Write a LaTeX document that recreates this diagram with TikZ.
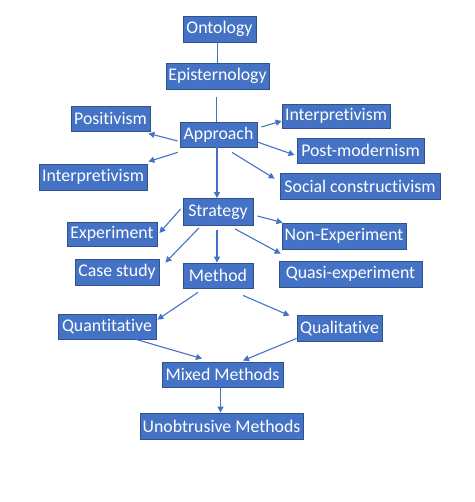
\documentclass[tikz,border=0pt]{standalone}
\usepackage{fontspec}
\setmainfont[Ligatures=NoCommon]{Carlito}
\usetikzlibrary{arrows.meta}
\definecolor{boxblue}{HTML}{4472C4}
\definecolor{edgeblue}{HTML}{2F528F}
\begin{document}
\begin{tikzpicture}[x=1pt,y=-1pt,
  box/.style={draw=edgeblue,line width=0.8pt,fill=boxblue,text=white,inner sep=0pt,
    font=\fontsize{17.8}{21}\selectfont},
  link/.style={boxblue,line width=1.1pt},
  arr/.style={link,-{Triangle[length=6pt,width=6pt]}}]
\useasboundingbox (0,0) rectangle (474,502);
% boxes
\node[box,minimum width=73pt,minimum height=26pt] (ontology) at (219.5,29) {Ontology};
\node[box,minimum width=103pt,minimum height=26pt] (episte) at (217.5,76) {Episternology};
\node[box,minimum width=79pt,minimum height=25pt] (positivism) at (110.5,118.5) {Positivism};
\node[box,minimum width=77pt,minimum height=25pt] (approach) at (218.5,134.5) {Approach};
\node[box,minimum width=108pt,minimum height=24pt] (interpR) at (336,116) {Interpretivism};
\node[box,minimum width=127pt,minimum height=25pt] (postmod) at (360.5,150.5) {Post-modernism};
\node[box,minimum width=108pt,minimum height=26pt] (interpL) at (93,177) {Interpretivism};
\node[box,minimum width=160pt,minimum height=26pt] (social) at (360,186) {Social constructivism};
\node[box,minimum width=70pt,minimum height=27pt] (strategy) at (218,212) {Strategy};
\node[box,minimum width=90pt,minimum height=24pt] (experiment) at (112,234) {Experiment};
\node[box,minimum width=124pt,minimum height=26pt] (nonexp) at (344,236) {Non-Experiment};
\node[box,minimum width=84pt,minimum height=26pt] (casestudy) at (117,272) {Case study};
\node[box,minimum width=70pt,minimum height=25pt] (method) at (218,275.5) {Method};
\node[box,minimum width=143pt,minimum height=26pt] (quasi) at (350.5,274) {Quasi-experiment};
\node[box,minimum width=98pt,minimum height=25pt] (quant) at (107,326.5) {Quantitative};
\node[box,minimum width=85pt,minimum height=26pt] (qual) at (339.5,328) {Qualitative};
\node[box,minimum width=121pt,minimum height=25pt] (mixed) at (222.5,374.5) {Mixed Methods};
\node[box,minimum width=163pt,minimum height=26pt] (unob) at (221.5,426) {Unobtrusive Methods};
% top of the chain
\draw[link] (ontology.south -| episte.north) -- (episte.north);
\draw[link,shorten <=8pt] ([xshift=-1pt]episte.south) -- ([xshift=-1pt]episte.south |- approach.north);
% approach
\draw[arr] ([xshift=-2pt,yshift=-6.5pt]approach.west) -- ([xshift=-2pt,yshift=-2pt]positivism.south east);
\draw[arr] ([xshift=-2pt,yshift=-5pt]approach.south west) -- ([xshift=1pt,yshift=2pt]interpL.north east);
\draw[arr] ([xshift=4pt,yshift=7.5pt]approach.east) -- ([yshift=-5pt]interpR.west);
\draw[arr] ([yshift=-7.5pt]approach.east) -- ([xshift=-2pt,yshift=-4.5pt]postmod.west);
\draw[arr] ([xshift=13.5pt,yshift=-5pt]approach.south) -- ([xshift=-5pt,yshift=-6pt]social.north west);
\draw[arr] ([xshift=-1.5pt]approach.south) -- ([xshift=-1pt]strategy.north);
% strategy
\draw[arr] ([xshift=-2pt,yshift=3pt]strategy.west) -- ([xshift=2pt,yshift=1pt]experiment.east);
\draw[arr] ([xshift=-19pt,yshift=-2pt]strategy.south) -- ([xshift=6pt,yshift=-4pt]casestudy.north east);
\draw[arr,shorten <=4pt] ([xshift=-1pt]strategy.south) -- ([xshift=-1pt]method.north);
\draw[arr] ([xshift=4pt,yshift=-4pt]strategy.east) -- ([xshift=1pt]nonexp.north west);
\draw[arr] ([xshift=17pt,yshift=-3pt]strategy.south) -- ([xshift=2pt,yshift=7pt]quasi.north west);
% method
\draw[arr] ([xshift=-20pt,yshift=-4pt]method.south) -- ([xshift=1pt,yshift=-6pt]quant.north east);
\draw[arr] ([xshift=25pt,yshift=-7pt]method.south) -- ([xshift=-7pt,yshift=-1pt]qual.north west);
\draw[arr] ([xshift=29pt]quant.south) -- ([xshift=-20.5pt,yshift=3pt]mixed.north);
\draw[arr] ([yshift=3pt]qual.south west) -- ([xshift=20.5pt,yshift=1pt]mixed.north);
\draw[arr] ([xshift=-2pt]mixed.south) -- ([xshift=-1pt]unob.north);
\end{tikzpicture}
\end{document}
